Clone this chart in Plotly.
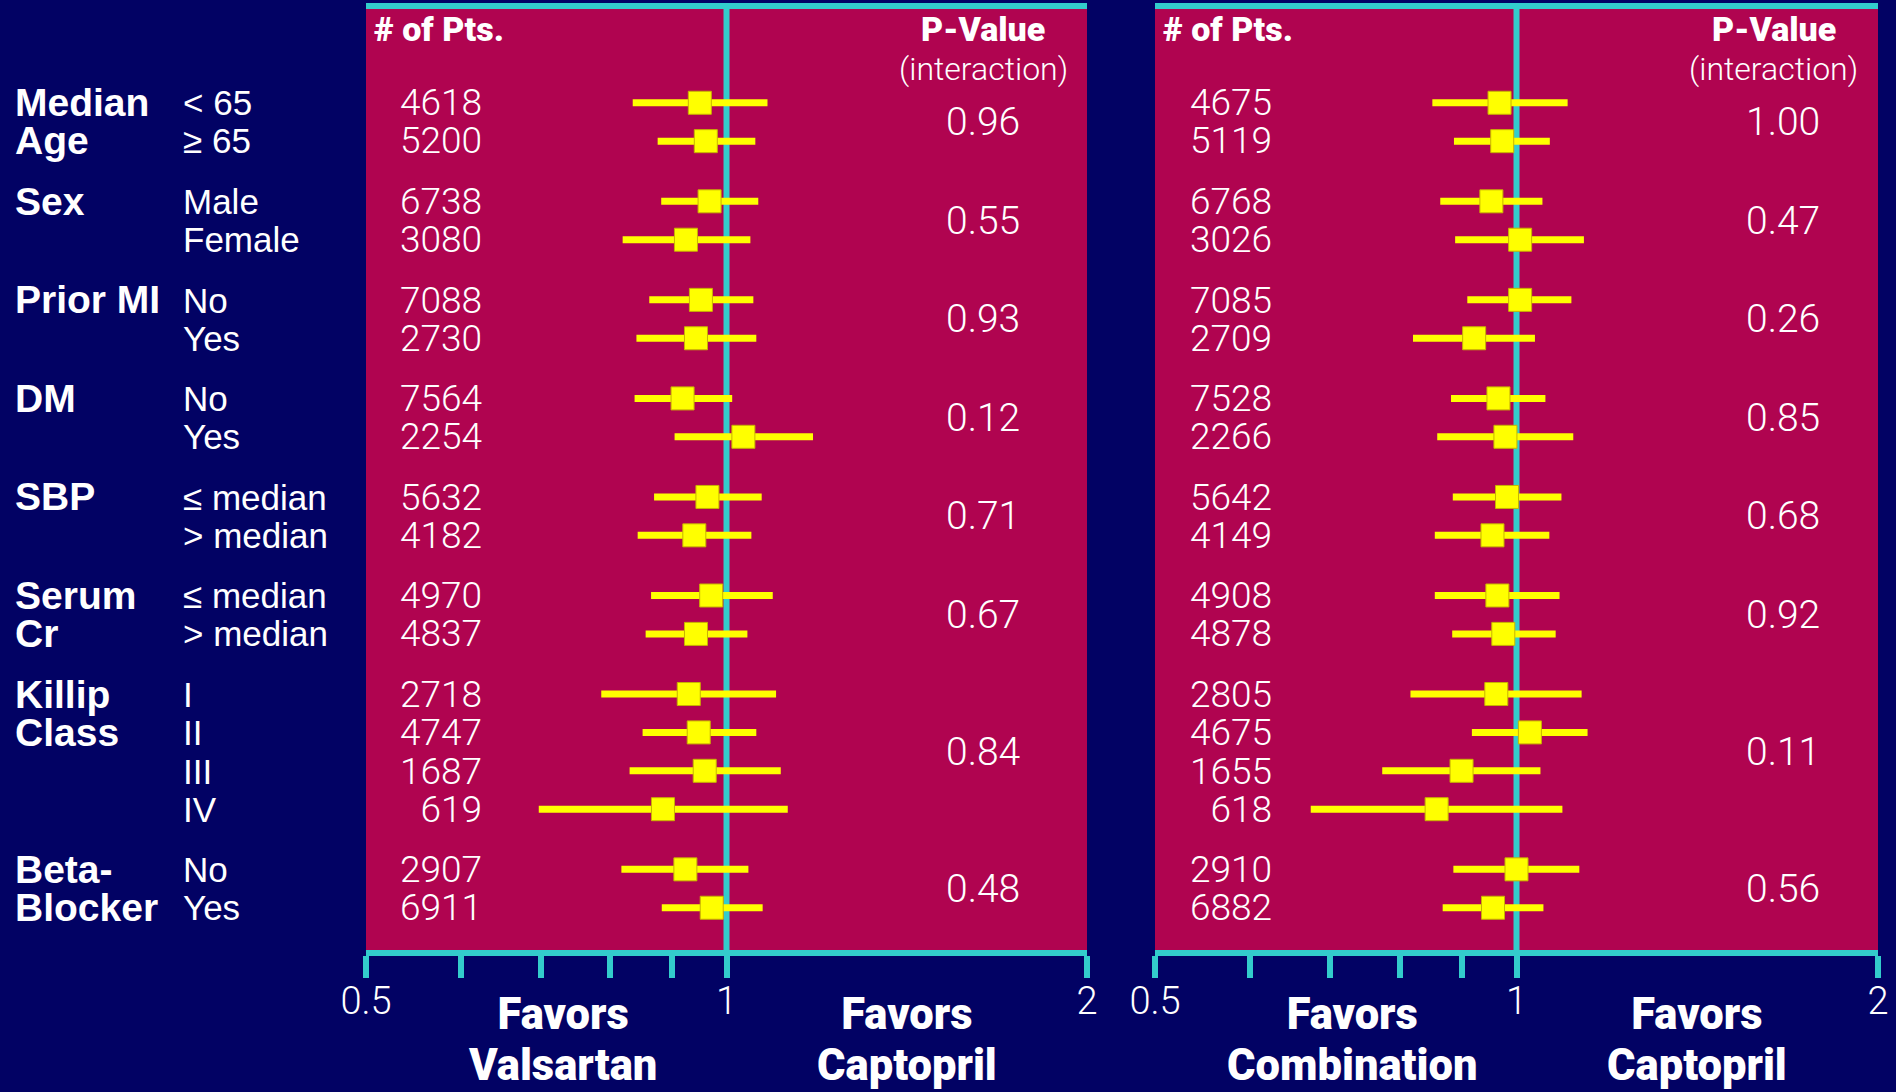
import numpy as np
import plotly.graph_objects as go

# ---------------- data ----------------
group_labels = [["Median", "Age"], ["Sex"], ["Prior MI"], ["DM"], ["SBP"],
                ["Serum", "Cr"], ["Killip", "Class"], ["Beta-", "Blocker"]]
subgroups = [["< 65", "≥ 65"], ["Male", "Female"], ["No", "Yes"], ["No", "Yes"],
             ["≤ median", "> median"], ["≤ median", "> median"],
             ["I", "II", "III", "IV"], ["No", "Yes"]]

n_val = [4618, 5200, 6738, 3080, 7088, 2730, 7564, 2254, 5632, 4182, 4970, 4837,
         2718, 4747, 1687, 619, 2907, 6911]
hr_val = [0.950, 0.961, 0.968, 0.925, 0.952, 0.943, 0.919, 1.033, 0.964, 0.940,
          0.971, 0.943, 0.930, 0.948, 0.959, 0.885, 0.924, 0.972]
lo_val = [0.835, 0.876, 0.882, 0.819, 0.862, 0.841, 0.838, 0.905, 0.870, 0.843,
          0.865, 0.856, 0.786, 0.851, 0.830, 0.697, 0.817, 0.883]
hi_val = [1.082, 1.057, 1.063, 1.047, 1.053, 1.059, 1.011, 1.181, 1.070, 1.049,
          1.093, 1.041, 1.100, 1.059, 1.110, 1.125, 1.043, 1.072]
p_val = ["0.96", "0.55", "0.93", "0.12", "0.71", "0.67", "0.84", "0.48"]

n_comb = [4675, 5119, 6768, 3026, 7085, 2709, 7528, 2266, 5642, 4149, 4908, 4878,
          2805, 4675, 1655, 618, 2910, 6882]
hr_comb = [0.968, 0.973, 0.953, 1.007, 1.007, 0.922, 0.966, 0.979, 0.982, 0.955,
           0.964, 0.975, 0.962, 1.026, 0.900, 0.858, 1.000, 0.956]
lo_comb = [0.851, 0.887, 0.864, 0.889, 0.910, 0.820, 0.882, 0.859, 0.885, 0.855,
           0.855, 0.884, 0.816, 0.918, 0.773, 0.674, 0.886, 0.868]
hi_comb = [1.103, 1.066, 1.051, 1.138, 1.111, 1.036, 1.057, 1.115, 1.090, 1.065,
           1.086, 1.078, 1.133, 1.146, 1.047, 1.092, 1.128, 1.053]
p_comb = ["1.00", "0.47", "0.26", "0.85", "0.68", "0.92", "0.11", "0.56"]

favors = [["Favors", "Valsartan"], ["Favors", "Captopril"],
          ["Favors", "Combination"], ["Favors", "Captopril"]]
tick_vals = [0.5, 0.6, 0.7, 0.8, 0.9, 1, 2]
tick_text = ["0.5", "", "", "", "", "1", "2"]

# ---------------- style ----------------
NAVY = "#020264"
RED = "#B00450"
CYAN = "#33CCCC"
YELLOW = "#FFFF00"
WHITE = "#FFFFFF"
W, H = 1896, 1092
LIGHT = "Roboto"
ARIAL = "Liberation Sans, Arial, sans-serif"
GAP = 1.567
ROW_PX = 38.39                 # pixel height of one row unit
BASE = ROW_PX / 1.3            # base font size -> line spacing == one row
FAV_BASE = 51 / 1.3            # line spacing of the "Favors ..." captions


def stack(lines, size):
    """Multi-line text with glyphs of `size` px; spacing set by the base font."""
    return "<br>".join("<span style='font-size:%spx'>%s</span>" % (size, t) for t in lines)


# row positions (group layout)
pos, group_rows = [], []
start = 0.0
for subs in subgroups:
    rows = [start + j for j in range(len(subs))]
    pos.extend(rows)
    group_rows.append(rows)
    start = rows[-1] + GAP
y_range = [22.07, -2.443]

fig = go.Figure()
panels = [
    dict(n=n_val, hr=hr_val, lo=lo_val, hi=hi_val, p=p_val, ax="x", ay="y",
         dom=[366 / W, 1087 / W], px=0.856, fav=favors[0:2]),
    dict(n=n_comb, hr=hr_comb, lo=lo_comb, hi=hi_comb, p=p_comb, ax="x2", ay="y2",
         dom=[1155 / W, 1878 / W], px=0.869, fav=favors[2:4]),
]

annotations = []
shapes = []
for k, pnl in enumerate(panels):
    hr = np.array(pnl["hr"])
    lo = np.array(pnl["lo"])
    hi = np.array(pnl["hi"])
    fig.add_trace(go.Scatter(
        x=hr, y=pos, mode="markers", xaxis=pnl["ax"], yaxis=pnl["ay"],
        marker=dict(symbol="square", size=23, color=YELLOW,
                    line=dict(color="#C8B400", width=1)),
        error_x=dict(type="data", symmetric=False, array=hi - hr, arrayminus=hr - lo,
                     color=YELLOW, thickness=7, width=0),
        showlegend=False, hoverinfo="skip"))
    xd = pnl["ax"] + " domain"
    shapes.append(dict(type="line", xref=pnl["ax"], yref=pnl["ay"] + " domain",
                       x0=1, x1=1, y0=0, y1=1, layer="below",
                       line=dict(color=CYAN, width=6)))
    annotations.append(dict(text="# of Pts.", xref=xd, yref=pnl["ay"], x=0.008, y=-1.92,
                            xanchor="left", yanchor="middle", showarrow=False,
                            font=dict(family=LIGHT, size=34, color=WHITE, weight=900)))
    annotations.append(dict(text="P-Value", xref=xd, yref=pnl["ay"], x=0.856, y=-1.92,
                            xanchor="center", yanchor="middle", showarrow=False,
                            font=dict(family=LIGHT, size=34, color=WHITE, weight=900)))
    annotations.append(dict(text="(interaction)", xref=xd, yref=pnl["ay"], x=0.856, y=-0.88,
                            xanchor="center", yanchor="middle", showarrow=False,
                            font=dict(family=LIGHT, size=32, color=WHITE, weight=300)))
    # patient numbers, one stacked block per group
    idx = 0
    for g, rows in enumerate(group_rows):
        nums = [str(v) for v in pnl["n"][idx: idx + len(rows)]]
        idx += len(rows)
        annotations.append(dict(text=stack(nums, 37), xref=xd, yref=pnl["ay"], x=0.164,
                                y=float(np.mean(rows)), xanchor="right", yanchor="middle",
                                align="right", showarrow=False,
                                font=dict(family=LIGHT, size=BASE, color=WHITE, weight=300)))
    for g, pv in enumerate(pnl["p"]):
        annotations.append(dict(text=pv, xref=xd, yref=pnl["ay"], x=pnl["px"],
                                y=float(np.mean(group_rows[g])),
                                xanchor="center", yanchor="middle", showarrow=False,
                                font=dict(family=LIGHT, size=39, color=WHITE, weight=300)))
    for fx, lines in zip([0.273, 0.75], pnl["fav"]):
        annotations.append(dict(text=stack(lines, 43.5), xref=xd, yref="paper", x=fx,
                                y=1 - 1040 / H, xanchor="center", yanchor="middle",
                                align="center", showarrow=False,
                                font=dict(family=LIGHT, size=FAV_BASE, color=WHITE,
                                          weight=900)))

# left side labels
for g, (glines, subs) in enumerate(zip(group_labels, subgroups)):
    rows = group_rows[g]
    annotations.append(dict(text=stack(glines, 39), xref="paper", yref="y", x=13 / W,
                            y=float(np.mean(rows[:len(glines)])), xanchor="left",
                            yanchor="middle", align="left", showarrow=False,
                            font=dict(family=ARIAL, size=BASE, color=WHITE, weight=700)))
    annotations.append(dict(text=stack(subs, 35), xref="paper", yref="y", x=181 / W,
                            y=float(np.mean(rows)), xanchor="left", yanchor="middle",
                            align="left", showarrow=False,
                            font=dict(family=ARIAL, size=BASE, color=WHITE)))

xaxis_common = dict(
    type="log", range=[np.log10(0.5), np.log10(2)], tickvals=tick_vals,
    ticktext=tick_text, ticks="outside", ticklen=22, tickwidth=6, tickcolor=CYAN,
    showline=True, linecolor=CYAN, linewidth=6, mirror=True, showgrid=False,
    zeroline=False, automargin=False, ticklabelstandoff=-10,
    tickfont=dict(family=LIGHT, size=38, color=WHITE, weight=300),
    fixedrange=True)
yaxis_common = dict(range=y_range, domain=[1 - 950 / H, 1 - 9 / H], showgrid=False,
                    zeroline=False, showticklabels=False, showline=False, ticks="",
                    automargin=False, fixedrange=True)

fig.update_layout(
    width=W, height=H, autosize=False,
    margin=dict(l=0, r=0, t=0, b=0, pad=0, autoexpand=False),
    paper_bgcolor=NAVY, plot_bgcolor=RED,
    xaxis=dict(domain=panels[0]["dom"], anchor="y", **xaxis_common),
    xaxis2=dict(domain=panels[1]["dom"], anchor="y2", **xaxis_common),
    yaxis=dict(anchor="x", **yaxis_common),
    yaxis2=dict(anchor="x2", **yaxis_common),
    annotations=annotations, shapes=shapes,
)

fig.write_html(
    "out.html",
    config={"displayModeBar": False},
    post_script="document.body.style.margin='0';document.body.style.background='%s';"
                "document.body.style.overflow='hidden';" % NAVY,
)
